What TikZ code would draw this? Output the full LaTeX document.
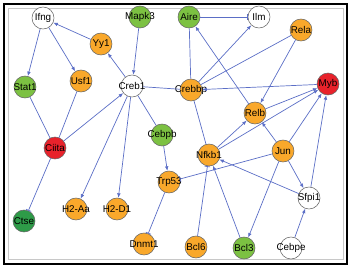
\documentclass[tikz,border=0pt]{standalone}
\usepackage{fontspec}
\setmainfont{Liberation Sans}
\usetikzlibrary{arrows.meta}
\definecolor{GNOrange}{HTML}{F9A82B}
\definecolor{GNGreen}{HTML}{7CC142}
\definecolor{GNDark}{HTML}{2E9B48}
\definecolor{GNRed}{HTML}{E8222B}
\definecolor{GNEdge}{HTML}{5B6EC6}
\definecolor{GNFrame}{HTML}{C8C8C8}
\newcommand{\glab}[1]{\makebox[0pt]{#1}}

\begin{document}
\begin{tikzpicture}[x=0.025cm,y=-0.025cm,
  gene/.style={circle,draw=black!60,line width=0.4pt,minimum size=0.55cm,inner sep=0pt,font=\fontsize{7}{8}\selectfont},
  act/.style={GNEdge,line width=0.5pt,-{Latex[length=3.2pt,width=2.6pt]}},
  inh/.style={GNEdge,line width=0.5pt,-{Bar[width=4pt]}},
  lnk/.style={GNEdge,line width=0.5pt}]
\path[use as bounding box] (0,0) rectangle (352,269);
\draw[black,line width=0.9pt] (4,4) rectangle (347,264);
\draw[GNFrame,line width=0.6pt] (8,8) rectangle (343,259);
\node[gene,fill=white] (ifng) at (43,18) {\glab{Ifng}};
\node[gene,fill=GNGreen] (mapk3) at (140,17) {\glab{Mapk3}};
\node[gene,fill=GNOrange] (yy1) at (101,44) {\glab{Yy1}};
\node[gene,fill=GNGreen] (stat1) at (25,87) {\glab{Stat1}};
\node[gene,fill=GNOrange] (usf1) at (81,81) {\glab{Usf1}};
\node[gene,fill=white] (creb1) at (132,86) {\glab{Creb1}};
\node[gene,fill=GNGreen] (aire) at (189,17) {\glab{Aire}};
\node[gene,fill=white] (ilm) at (259,17) {\glab{Ilm}};
\node[gene,fill=GNOrange] (rela) at (301,30) {\glab{Rela}};
\node[gene,fill=GNOrange] (crebbp) at (191,90) {\glab{Crebbp}};
\node[gene,fill=GNRed] (myb) at (328,84) {\glab{Myb}};
\node[gene,fill=GNOrange] (relb) at (255,113) {\glab{Relb}};
\node[gene,fill=GNRed] (ciita) at (55,148) {\glab{Ciita}};
\node[gene,fill=GNDark] (ctse) at (24,221) {\glab{Ctse}};
\node[gene,fill=GNOrange] (h2aa) at (76,209) {\glab{H2-Aa}};
\node[gene,fill=GNOrange] (h2d1) at (117,209) {\glab{H2-D1}};
\node[gene,fill=GNGreen] (cebpb) at (162,135) {\glab{Cebpb}};
\node[gene,fill=GNOrange] (trp53) at (169,182) {\glab{Trp53}};
\node[gene,fill=GNOrange] (dnmt1) at (144,244) {\glab{Dnmt1}};
\node[gene,fill=GNOrange] (nfkb1) at (209,155) {\glab{Nfkb1}};
\node[gene,fill=GNOrange] (jun) at (283,151) {\glab{Jun}};
\node[gene,fill=white] (sfpi1) at (309,198) {\glab{Sfpi1}};
\node[gene,fill=GNOrange] (bcl6) at (196,247) {\glab{Bcl6}};
\node[gene,fill=GNGreen] (bcl3) at (244,248) {\glab{Bcl3}};
\node[gene,fill=white] (cebpe) at (291,248) {\glab{Cebpe}};
\draw[act] (ifng) -- (stat1);
\draw[act] (ifng) -- (usf1);
\draw[act] (yy1) -- (ifng);
\draw[act] (creb1) -- (yy1);
\draw[act] (mapk3) -- (creb1);
\draw[act] (ciita) -- (creb1);
\draw[act] (creb1) -- (h2aa);
\draw[act] (creb1) -- (h2d1);
\draw[act] (cebpb) -- (trp53);
\draw[act] (crebbp) -- (ilm);
\draw[act] (rela) -- (relb);
\draw[act] (relb) -- (aire);
\draw[act] (myb) -- (crebbp);
\draw[act] (relb) -- (myb);
\draw[act] (nfkb1) -- (myb);
\draw[act] (jun) -- (myb);
\draw[act] (sfpi1) -- (myb);
\draw[act] (nfkb1) -- (relb);
\draw[act] (jun) -- (relb);
\draw[act] (sfpi1) -- (nfkb1);
\draw[act] (bcl3) -- (nfkb1);
\draw[act] (jun) -- (bcl3);
\draw[act] (jun) -- (sfpi1);
\draw[act] (cebpe) -- (sfpi1);
\draw[inh] (ciita) -- (ctse);
\draw[inh] (trp53) -- (dnmt1);
\draw[inh] (jun) -- (trp53);
\draw[inh] (aire) -- (ilm);
\draw[inh] (bcl6) -- (nfkb1);
\draw[lnk] (stat1) -- (ciita);
\draw[lnk] (usf1) -- (ciita);
\draw[lnk] (creb1) -- (cebpb);
\draw[lnk] (creb1) -- (crebbp);
\draw[lnk] (aire) -- (crebbp);
\draw[lnk] (rela) -- (crebbp);
\draw[lnk] (crebbp) -- (nfkb1);
\end{tikzpicture}
\end{document}
